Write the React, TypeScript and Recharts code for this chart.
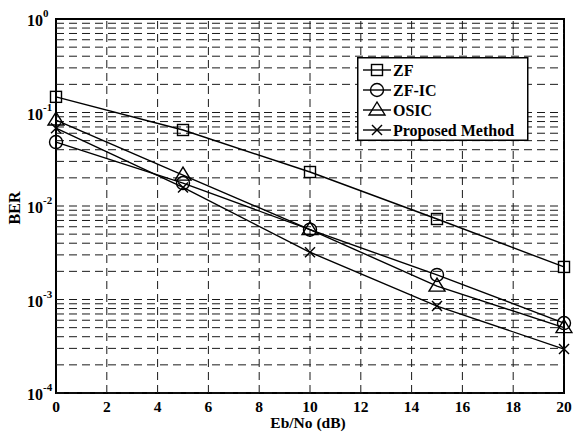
import React from 'react';
import { LineChart, Line, XAxis, YAxis, ReferenceLine, ReferenceArea } from 'recharts';

const snrDb = [0, 5, 10, 15, 20];
const berZF = [0.147, 0.065, 0.0231, 0.00726, 0.00223];
const berZFIC = [0.0483, 0.0176, 0.00558, 0.00183, 0.00056];
const berOSIC = [0.083, 0.0214, 0.0056, 0.00139, 0.0005];
const berProposed = [0.068, 0.0158, 0.0032, 0.00085, 0.000295];
const seriesNames = ['ZF', 'ZF-IC', 'OSIC', 'Proposed Method'];
const xTicks = [0, 2, 4, 6, 8, 10, 12, 14, 16, 18, 20];
const yTicks = [1e-4, 1e-3, 1e-2, 1e-1, 1];
const minorMultipliers = [1, 2, 3, 4, 5, 6, 7, 8, 9];
const decadeExps = [-4, -3, -2, -1];

const data = snrDb.map((x, i) => ({
  x,
  zf: berZF[i],
  zfic: berZFIC[i],
  osic: berOSIC[i],
  prop: berProposed[i],
}));

const FONT = '"Liberation Serif", "Times New Roman", serif';
const INK = '#000';

type MarkerKind = 'square' | 'circle' | 'triangle' | 'cross';
const markerKinds: MarkerKind[] = ['square', 'circle', 'triangle', 'cross'];

function Marker({ kind, cx, cy }: { kind: MarkerKind; cx: number; cy: number }) {
  const common = { fill: 'none', stroke: INK, strokeWidth: 1.4 };
  if (kind === 'square') return <rect x={cx - 5.5} y={cy - 5.5} width={11} height={11} {...common} />;
  if (kind === 'circle') return <circle cx={cx} cy={cy} r={6.5} {...common} />;
  if (kind === 'triangle')
    return <polygon points={`${cx},${cy - 8} ${cx - 8},${cy + 5} ${cx + 8},${cy + 5}`} {...common} />;
  return (
    <g {...common}>
      <line x1={cx - 5} y1={cy - 5} x2={cx + 5} y2={cy + 5} />
      <line x1={cx - 5} y1={cy + 5} x2={cx + 5} y2={cy - 5} />
    </g>
  );
}

const makeDot = (kind: MarkerKind) => (props: any) => {
  const { cx, cy, index } = props;
  if (cx == null || cy == null) return <g key={index} />;
  return <Marker key={index} kind={kind} cx={cx} cy={cy} />;
};

const YTick = (props: any) => {
  const { y, payload } = props;
  const exp = Math.round(Math.log10(payload.value));
  return (
    <text x={27} y={y + 7} fontFamily={FONT} fontWeight="bold" fontSize={16} fill={INK}>
      10
      <tspan dy={-9} fontSize={11}>{String(exp)}</tspan>
    </text>
  );
};

const XTick = (props: any) => {
  const { x, y, payload } = props;
  return (
    <text x={x} y={y + 11} textAnchor="middle" fontFamily={FONT} fontWeight="bold" fontSize={15.5} fill={INK}>
      {payload.value}
    </text>
  );
};

const LegendBox = () => (
  <svg width={172} height={84} style={{ display: 'block' }}>
    <rect x={0.75} y={0.75} width={170} height={82.5} fill="#fff" stroke={INK} strokeWidth={1.5} />
    {seriesNames.map((name, i) => {
      const cy = 13 + i * 20;
      return (
        <g key={name}>
          <line x1={6} y1={cy} x2={34} y2={cy} stroke={INK} strokeWidth={1.4} />
          <Marker kind={markerKinds[i]} cx={20} cy={cy} />
          <text x={36} y={cy + 5.5} fontFamily={FONT} fontWeight="bold" fontSize={16} fill={INK}>
            {name}
          </text>
        </g>
      );
    })}
  </svg>
);

const gridStroke = '#1a1a1a';
const dash = '8 5';

export default function App() {
  const minorValues: number[] = [];
  decadeExps.forEach((e) => minorMultipliers.forEach((m) => minorValues.push(m * Math.pow(10, e))));
  const verticalGrid = xTicks.slice(1, -1);
  const keys = ['zf', 'zfic', 'osic', 'prop'];

  return (
    <div style={{ position: 'absolute', left: 0, top: 0, width: 573, height: 434, background: '#fff' }}>
      <LineChart width={573} height={434} data={data} margin={{ top: 19, right: 9, bottom: 16, left: 0 }}>
        <XAxis
          dataKey="x"
          type="number"
          domain={[0, 20]}
          ticks={xTicks}
          interval={0}
          tick={<XTick />}
          tickLine={false}
          axisLine={false}
          height={25}
          label={(p: any) => (
            <text x={308} y={428} textAnchor="middle" fontFamily={FONT} fontWeight="bold" fontSize={15.5} fill={INK}>
              Eb/No (dB)
            </text>
          )}
        />
        <YAxis
          type="number"
          scale="log"
          domain={[1e-4, 1]}
          ticks={yTicks}
          interval={0}
          allowDataOverflow
          tick={<YTick />}
          tickLine={false}
          axisLine={false}
          width={56}
          label={(p: any) => (
            <text
              x={20}
              y={208}
              textAnchor="middle"
              transform="rotate(-90 20 208)"
              fontFamily={FONT}
              fontWeight="bold"
              fontSize={16}
              fill={INK}
            >
              BER
            </text>
          )}
        />
        {minorValues.map((v) => (
          <ReferenceLine key={'h' + v} y={v} stroke={gridStroke} strokeDasharray={dash} strokeWidth={1} />
        ))}
        {verticalGrid.map((v) => (
          <ReferenceLine key={'v' + v} x={v} stroke={gridStroke} strokeDasharray={dash} strokeWidth={1} />
        ))}
        <ReferenceArea x1={0} x2={20} y1={1e-4} y2={1} fill="none" stroke={INK} strokeWidth={2} ifOverflow="visible" />
        {keys.map((k, i) => (
          <Line
            key={k}
            dataKey={k}
            name={seriesNames[i]}
            stroke={INK}
            strokeWidth={1.4}
            type="linear"
            isAnimationActive={false}
            dot={makeDot(markerKinds[i])}
            activeDot={false}
          />
        ))}
      </LineChart>
      <div style={{ position: 'absolute', left: 357, top: 57 }}>
        <LegendBox />
      </div>
    </div>
  );
}
